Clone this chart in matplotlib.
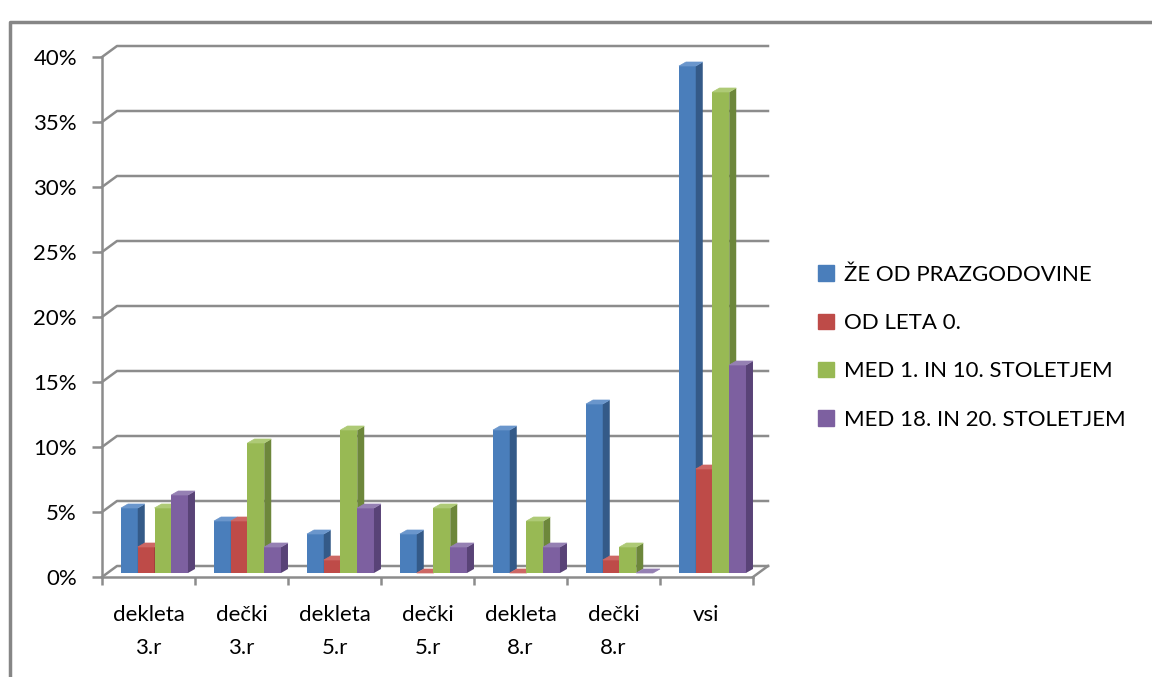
import matplotlib.pyplot as plt
from matplotlib.patches import Patch, Polygon
from matplotlib.lines import Line2D
from matplotlib.transforms import ScaledTranslation, IdentityTransform

plt.rcParams['font.family'] = ['Lato', 'DejaVu Sans']

categories = ['dekleta\n3.r', 'dečki\n3.r', 'dekleta\n5.r', 'dečki\n5.r',
              'dekleta\n8.r', 'dečki\n8.r', 'vsi']
series = ['ŽE OD PRAZGODOVINE', 'OD LETA 0.', 'MED 1. IN 10. STOLETJEM',
          'MED 18. IN 20. STOLETJEM']
prazgodovina = [0.05, 0.04, 0.03, 0.03, 0.11, 0.13, 0.39]
leto0 = [0.02, 0.04, 0.01, 0.00, 0.00, 0.01, 0.08]
st1_10 = [0.05, 0.10, 0.11, 0.05, 0.04, 0.02, 0.37]
st18_20 = [0.06, 0.02, 0.05, 0.02, 0.02, 0.00, 0.16]
yticks = [0, 0.05, 0.10, 0.15, 0.20, 0.25, 0.30, 0.35, 0.40]
ylabels = ['0%', '5%', '10%', '15%', '20%', '25%', '30%', '35%', '40%']

front = ['#4A7EBB', '#BE4B48', '#98B954', '#7D60A0']
side = ['#345A88', '#8A3533', '#6D873B', '#594377']
top = ['#6A96CC', '#CD6764', '#AECA76', '#9580B3']
grid = '#8C8C8C'

fig = plt.figure(figsize=(11.52, 6.77), dpi=100)
ax = fig.add_axes([102 / 1152, 100 / 677, 651 / 1152, 520 / 677])
n = len(categories)
ax.set_xlim(-0.5, n - 0.5)
ax.set_ylim(0, 0.40)
ax.set_autoscale_on(False)

# depth of the walls / bars in pixels
wdx, wdy = 15, 11
bdx, bdy = 7, 4
shift = ScaledTranslation(6 / 100, 4 / 100, fig.dpi_scale_trans)

# walls and gridlines
T = ax.transData
for y in yticks:
    a = T.transform((-0.5, y))
    b = T.transform((n - 0.5, y))
    pts = [a, (a[0] + wdx, a[1] + wdy), (b[0] + wdx, b[1] + wdy)]
    ax.add_line(Line2D([p[0] for p in pts], [p[1] for p in pts], color=grid,
                       lw=1.8, transform=IdentityTransform(), clip_on=False, zorder=1))
a = T.transform((n - 0.5, 0))
ax.add_line(Line2D([a[0], a[0] + wdx], [a[1], a[1] + wdy], color=grid, lw=1.8,
                   transform=IdentityTransform(), clip_on=False, zorder=1))

for sp in ['top', 'right']:
    ax.spines[sp].set_visible(False)
for sp in ['left', 'bottom']:
    ax.spines[sp].set_color(grid)
    ax.spines[sp].set_linewidth(1.8)
ax.patch.set_alpha(0)

ax.set_yticks(yticks, ylabels, fontsize=16)
ax.set_xticks(range(n), categories, fontsize=16, linespacing=1.85)
ax.set_xticks([i - 0.5 for i in range(n + 1)], minor=True)
ax.tick_params(axis='y', length=7, width=1.8, color=grid, pad=11)
ax.tick_params(axis='x', which='major', length=0, pad=20)
ax.tick_params(axis='x', which='minor', length=6, width=1.8, color=grid)

# bars with pseudo 3D faces
data = [prazgodovina, leto0, st1_10, st18_20]
w = 0.18
z = 3
for i in range(n):
    for k, vals in enumerate(data):
        x0 = i - 2 * w + k * w
        v = vals[i]
        ax.bar(x0, v, w, align='edge', color=front[k], lw=0,
               transform=ax.transData + shift, zorder=z)
        p0 = T.transform((x0, 0))
        p1 = T.transform((x0 + w, v))
        x_l, x_r = p0[0] + 6, p1[0] + 6
        y_b, y_t = p0[1] + 4, p1[1] + 4
        sface = [(x_r, y_b), (x_r + bdx, y_b + bdy), (x_r + bdx, y_t + bdy), (x_r, y_t)]
        tface = [(x_l, y_t), (x_r, y_t), (x_r + bdx, y_t + bdy), (x_l + bdx, y_t + bdy)]
        ax.add_patch(Polygon(sface, closed=True, color=side[k], lw=0,
                             transform=IdentityTransform(), clip_on=False, zorder=z))
        ax.add_patch(Polygon(tface, closed=True, color=top[k], lw=0.5,
                             transform=IdentityTransform(), clip_on=False, zorder=z))
        z += 1

handles = [Patch(color=c) for c in front]
fig.legend(handles, series, loc='upper left', bbox_to_anchor=(798 / 1152, 1 - 245 / 677),
           frameon=False, fontsize=16, handlelength=0.7, handleheight=0.7,
           handletextpad=0.45, labelspacing=1.27)

# outer frame
fig.add_artist(Line2D([10 / 1152, 10 / 1152, 1], [0, 1 - 22 / 677, 1 - 22 / 677],
                      color='#868686', lw=2.5, transform=fig.transFigure))

fig.savefig('out.png', dpi=100)
